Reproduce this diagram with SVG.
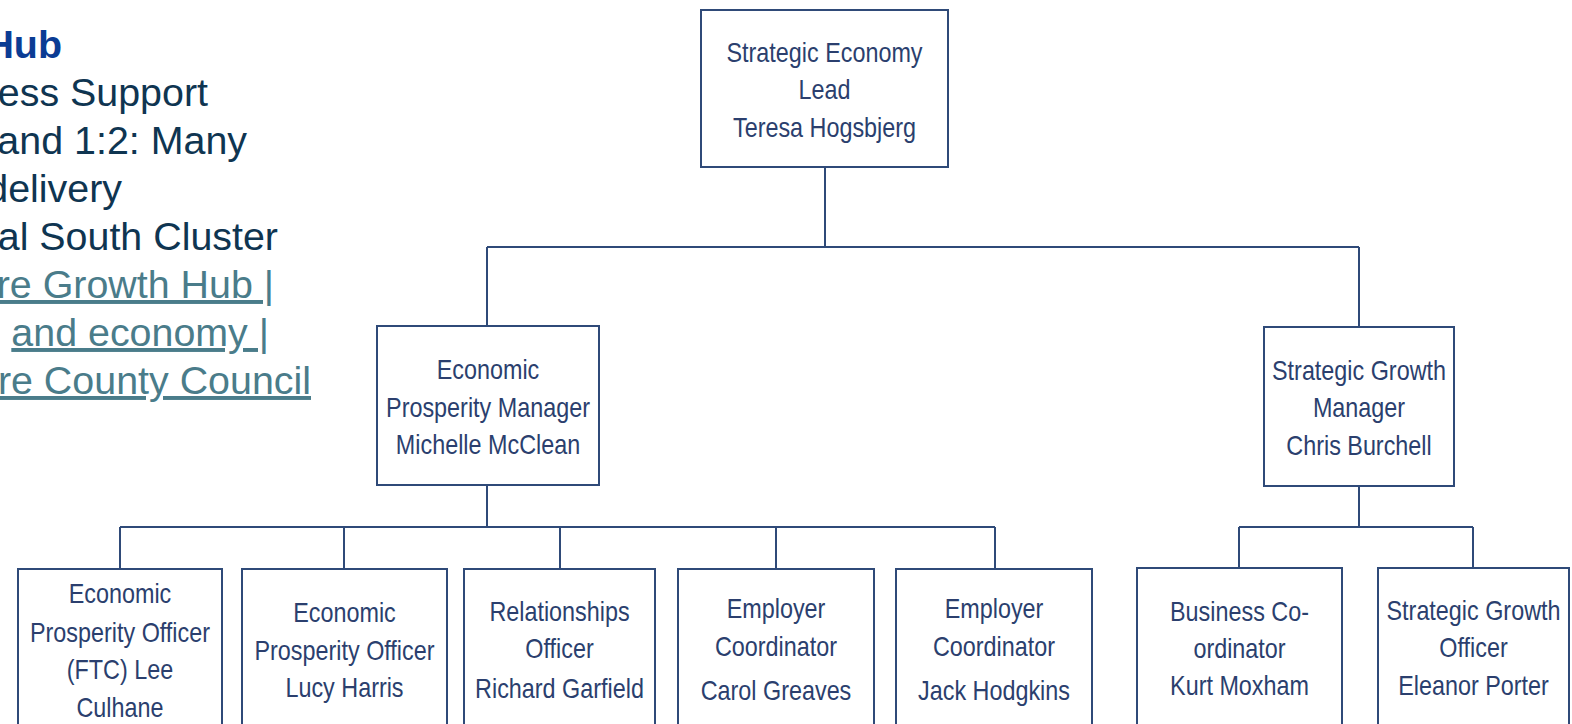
<svg xmlns="http://www.w3.org/2000/svg" width="1572" height="724" viewBox="0 0 1572 724">
<style>
.box{fill:#ffffff;stroke:#2f4a78;stroke-width:2}
.con{fill:none;stroke:#2f4a78;stroke-width:2}
.t{font-family:"Liberation Sans",Arial,sans-serif;font-size:28.5px;fill:#2b3f6e;text-anchor:middle}
.side{font-family:"Liberation Sans",Arial,sans-serif;font-size:39.4px;text-anchor:end}
.dark{fill:#0f3551}
.hub{fill:#0b3c94;font-weight:bold}
.link{fill:#4a7c8a;text-decoration:underline}
</style>
<rect width="1572" height="724" fill="#ffffff"/>
<g id="sidetext">
<text class="side hub" x="62" y="58">Hub</text>
<text class="side dark" x="208" y="106">ess Support</text>
<text class="side dark" x="247" y="154">and 1:2: Many</text>
<text class="side dark" x="122" y="202">delivery</text>
<text class="side dark" x="278" y="250">al South Cluster</text>
<text class="side link" x="274" y="298">re Growth Hub |</text>
<text class="side link" x="269" y="346"> and economy |</text>
<text class="side link" x="311" y="394">re County Council</text>
</g>
<g id="connectors">
<path class="con" d="M825,167V247M487,247H1359M487,247V326M1359,247V327"/>
<path class="con" d="M487,485V527M120,527H995M120,527V569M344,527V569M560,527V569M776,527V569M995,527V569"/>
<path class="con" d="M1359,486V527M1239,527H1473M1239,527V568M1473,527V568"/>
</g>
<g id="n-lead">
<rect class="box" x="701" y="10" width="247" height="157"/>
<text class="t" transform="translate(824.5 62) scale(0.82 1)">Strategic Economy</text>
<text class="t" transform="translate(824.5 99) scale(0.82 1)">Lead</text>
<text class="t" transform="translate(824.5 137) scale(0.82 1)">Teresa Hogsbjerg</text>
</g>
<g id="n-epm">
<rect class="box" x="377" y="326" width="222" height="159"/>
<text class="t" transform="translate(488 379) scale(0.82 1)">Economic</text>
<text class="t" transform="translate(488 417) scale(0.82 1)">Prosperity Manager</text>
<text class="t" transform="translate(488 454) scale(0.82 1)">Michelle McClean</text>
</g>
<g id="n-sgm">
<rect class="box" x="1264" y="327" width="190" height="159"/>
<text class="t" transform="translate(1359 380) scale(0.82 1)">Strategic Growth</text>
<text class="t" transform="translate(1359 417) scale(0.82 1)">Manager</text>
<text class="t" transform="translate(1359 455) scale(0.82 1)">Chris Burchell</text>
</g>
<g id="n-lee">
<rect class="box" x="18" y="569" width="204" height="170"/>
<text class="t" transform="translate(120 603) scale(0.82 1)">Economic</text>
<text class="t" transform="translate(120 642) scale(0.82 1)">Prosperity Officer</text>
<text class="t" transform="translate(120 679) scale(0.82 1)">(FTC) Lee</text>
<text class="t" transform="translate(120 717) scale(0.82 1)">Culhane</text>
</g>
<g id="n-lucy">
<rect class="box" x="242" y="569" width="205" height="170"/>
<text class="t" transform="translate(344.5 622) scale(0.82 1)">Economic</text>
<text class="t" transform="translate(344.5 660) scale(0.82 1)">Prosperity Officer</text>
<text class="t" transform="translate(344.5 697) scale(0.82 1)">Lucy Harris</text>
</g>
<g id="n-richard">
<rect class="box" x="464" y="569" width="191" height="170"/>
<text class="t" transform="translate(559.5 621) scale(0.82 1)">Relationships</text>
<text class="t" transform="translate(559.5 658) scale(0.82 1)">Officer</text>
<text class="t" transform="translate(559.5 698) scale(0.82 1)">Richard Garfield</text>
</g>
<g id="n-carol">
<rect class="box" x="678" y="569" width="196" height="170"/>
<text class="t" transform="translate(776 618) scale(0.82 1)">Employer</text>
<text class="t" transform="translate(776 656) scale(0.82 1)">Coordinator</text>
<text class="t" transform="translate(776 700) scale(0.82 1)">Carol Greaves</text>
</g>
<g id="n-jack">
<rect class="box" x="896" y="569" width="196" height="170"/>
<text class="t" transform="translate(994 618) scale(0.82 1)">Employer</text>
<text class="t" transform="translate(994 656) scale(0.82 1)">Coordinator</text>
<text class="t" transform="translate(994 700) scale(0.82 1)">Jack Hodgkins</text>
</g>
<g id="n-kurt">
<rect class="box" x="1137" y="568" width="205" height="171"/>
<text class="t" transform="translate(1239.5 621) scale(0.82 1)">Business Co-</text>
<text class="t" transform="translate(1239.5 658) scale(0.82 1)">ordinator</text>
<text class="t" transform="translate(1239.5 695) scale(0.82 1)">Kurt Moxham</text>
</g>
<g id="n-eleanor">
<rect class="box" x="1378" y="568" width="191" height="171"/>
<text class="t" transform="translate(1473.5 620) scale(0.82 1)">Strategic Growth</text>
<text class="t" transform="translate(1473.5 657) scale(0.82 1)">Officer</text>
<text class="t" transform="translate(1473.5 695) scale(0.82 1)">Eleanor Porter</text>
</g>
</svg>
